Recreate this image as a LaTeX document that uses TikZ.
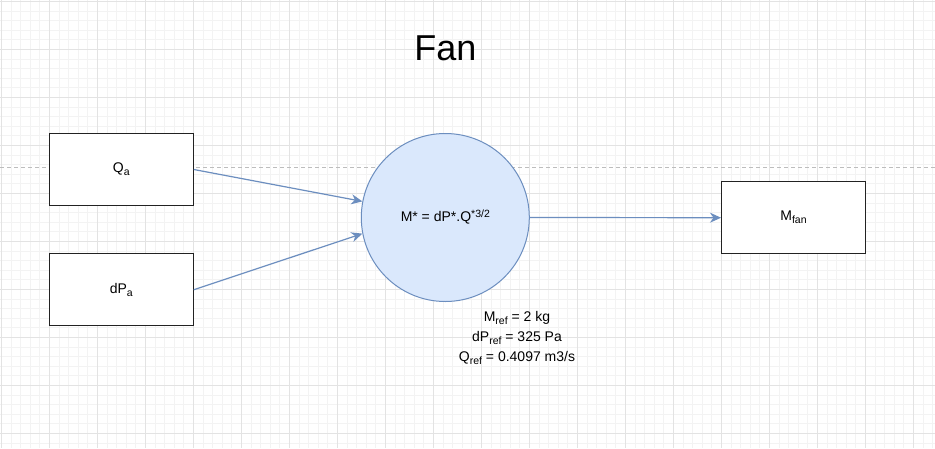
\documentclass[tikz,border=0pt]{standalone}
\usepackage{fontspec}
\setmainfont{Liberation Sans}
\usetikzlibrary{arrows.meta}
\definecolor{gridmajor}{HTML}{E3E3E3}
\definecolor{gridminor}{HTML}{F3F3F3}
\definecolor{blfill}{HTML}{DAE8FC}
\definecolor{blstroke}{HTML}{6C8EBF}
\definecolor{boxstroke}{HTML}{222222}
\definecolor{dashgray}{HTML}{BDBDBD}
\newcommand\mysub[1]{\raisebox{-3pt}{\fontsize{10.5}{12}\selectfont #1}}
\newcommand\mysup[1]{\raisebox{4pt}{\fontsize{10.5}{12}\selectfont #1}}
\tikzset{
  varbox/.style={draw=boxstroke, line width=1pt, fill=white, minimum width=144pt, minimum height=72pt, inner sep=0pt, font=\fontsize{14}{16.8}\selectfont},
  calcnode/.style={circle, draw=blstroke, line width=1pt, fill=blfill, minimum size=168pt, inner sep=0pt, font=\fontsize{14}{16.8}\selectfont},
  flow/.style={draw=blstroke, line width=1.2pt, -{Stealth[length=11pt,width=10pt,inset=3.5pt]}},
  reftext/.style={align=center, font=\fontsize{14}{19.6}\selectfont, inner sep=0pt},
  titletext/.style={font=\fontsize{36}{40}\selectfont, inner sep=0pt}
}
\begin{document}
\begin{tikzpicture}[x=1pt,y=-1pt]
\useasboundingbox (0,0) rectangle (935,448);
\fill[white] (0,0) rectangle (935,448);
% grid
\foreach \i in {0,...,97} {
  \draw[gridminor, line width=0.8pt] (1.3+\i*9.6,0) -- (1.3+\i*9.6,448);
}
\foreach \i in {0,...,46} {
  \draw[gridminor, line width=0.8pt] (0,1.3+\i*9.6) -- (935,1.3+\i*9.6);
}
\foreach \i in {0,...,19} {
  \draw[gridmajor, line width=1pt] (1.3+\i*48,0) -- (1.3+\i*48,448);
}
\foreach \i in {0,...,9} {
  \draw[gridmajor, line width=1pt] (0,1.3+\i*48) -- (935,1.3+\i*48);
}
% dashed guide
\coordinate (gl) at (0,167.3);
\coordinate (gr) at (935,167.3);
\draw[dashgray, line width=0.8pt, dash pattern=on 4pt off 3pt] (gl) -- (gr);
% title
\node[titletext] (title) at (445.5,48) {Fan};
% nodes
\node[varbox] (qa) at (121.3,169.5) {Q\mysub{a}};
\node[varbox] (dpa) at (121.3,289.7) {dP\mysub{a}};
\node[calcnode] (fan) at (445.3,217.5) {M* = dP*.Q\mysup{*3/2}};
\node[varbox] (mfan) at (793.5,217.7) {M\mysub{fan}};
\node[reftext] (ref) at (517,338) {M\mysub{ref} = 2 kg\\dP\mysub{ref} = 325 Pa\\Q\mysub{ref} = 0.4097 m3/s};
% connectors
\draw[flow] (qa.east) -- (fan.169);
\draw[flow] (dpa.east) -- (fan.191);
\draw[flow] (fan.east) -- (mfan.west);
\end{tikzpicture}
\end{document}
